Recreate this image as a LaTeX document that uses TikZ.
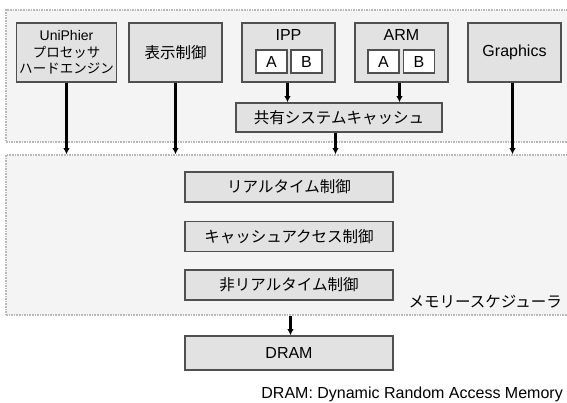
\documentclass[tikz,border=0pt]{standalone}
\usepackage{fontspec}
\setmainfont{Liberation Sans}
\newfontfamily\jp{Noto Sans CJK JP}
\usepackage{tikz}
\usetikzlibrary{calc}
\usetikzlibrary{arrows.meta}
\tikzset{>={Latex[length=6pt,width=6.5pt]}}
\definecolor{boxgray}{HTML}{E2E2E2}
\definecolor{areagray}{HTML}{F4F4F4}
\definecolor{edgegray}{HTML}{505050}
\tikzset{
  blk/.style={draw=edgegray, line width=1.6pt, fill=boxgray, minimum width=93pt, minimum height=59pt, inner sep=0pt, align=center, font=\fontsize{16}{18}\selectfont},
  subblk/.style={draw=edgegray, line width=1.6pt, fill=white, minimum width=31pt, minimum height=23pt, inner sep=0pt, font=\fontsize{16}{18}\selectfont},
  ctl/.style={blk, minimum width=208pt, minimum height=30pt, font=\jp\fontsize{15.5}{18}\selectfont},
  area/.style={draw=gray!55, line width=1.6pt, densely dotted, fill=areagray, inner sep=0pt},
  link/.style={->, line width=2.4pt}
}
\begin{document}
\begin{tikzpicture}[x=1pt,y=-1pt]
	\useasboundingbox (0,0) rectangle (567,403);
	% two areas, open to the right edge
	\node[area, minimum width=566pt, minimum height=132pt] (upper) at (289,76) {};
	\node[area, minimum width=566pt, minimum height=160pt] (sched) at (289,235) {};
	% masters
	\node[blk, minimum width=100pt, font=\fontsize{14}{16.7}\selectfont] (uni) at (66.5,52.5) {UniPhier\\{\jp\fontsize{13.5}{16.7}\selectfont プロセッサ}\\{\jp\fontsize{13.5}{16.7}\selectfont ハードエンジン}};
	\node[blk, font=\jp\fontsize{15.5}{18}\selectfont] (disp) at (175.5,52.5) {表示制御};
	\node[blk] (ipp) at (288.5,52.5) {};
	\node[anchor=center, font=\fontsize{16}{18}\selectfont] (ippt) at (288.5,35) {IPP};
	\node[subblk] (ippa) at (271.5,61.5) {A};
	\node[subblk] (ippb) at (306.5,61.5) {B};
	\node[blk] (arm) at (401.5,52.5) {};
	\node[anchor=center, font=\fontsize{16}{18}\selectfont] (armt) at (401.5,35) {ARM};
	\node[subblk] (arma) at (383.5,61.5) {A};
	\node[subblk] (armb) at (419,61.5) {B};
	\node[blk] (gfx) at (514.5,52.5) {Graphics};
	\node[blk, minimum width=206pt, minimum height=29pt, font=\jp\fontsize{15.5}{18}\selectfont] (cache) at (339,117.5) {共有システムキャッシュ};
	% scheduler
	\node[ctl] (rt) at (289,187) {リアルタイム制御};
	\node[ctl] (ca) at (289,236.5) {キャッシュアクセス制御};
	\node[ctl] (nrt) at (289,285) {非リアルタイム制御};
	\node[anchor=east, inner sep=0pt, font=\jp\fontsize{15.5}{18}\selectfont] (schedt) at (562,302) {メモリースケジューラ};
	\node[ctl, minimum height=34pt, font=\fontsize{16}{18}\selectfont] (dram) at (289,353) {DRAM};
	\node[anchor=east, inner sep=0pt, font=\fontsize{16}{18}\selectfont] (note) at (563,394) {DRAM: Dynamic Random Access Memory};
	% arrows
	\draw[link] (uni.south) -- (uni.south |- sched.north);
	\draw[link] (disp.south) -- (disp.south |- sched.north);
	\draw[link] ([xshift=-1pt]ipp.south) -- ([xshift=-1pt]ipp.south |- cache.north);
	\draw[link] ([xshift=-2pt]arm.south) -- ([xshift=-2pt]arm.south |- cache.north);
	\draw[link] ([xshift=-3.5pt]cache.south) -- ([xshift=-3.5pt]cache.south |- sched.north);
	\draw[link] ([xshift=-2pt]gfx.south) -- ([xshift=-2pt]gfx.south |- sched.north);
	\draw[link] ([xshift=1.5pt]sched.south) -- ([xshift=1.5pt]sched.south |- dram.north);
\end{tikzpicture}
\end{document}
